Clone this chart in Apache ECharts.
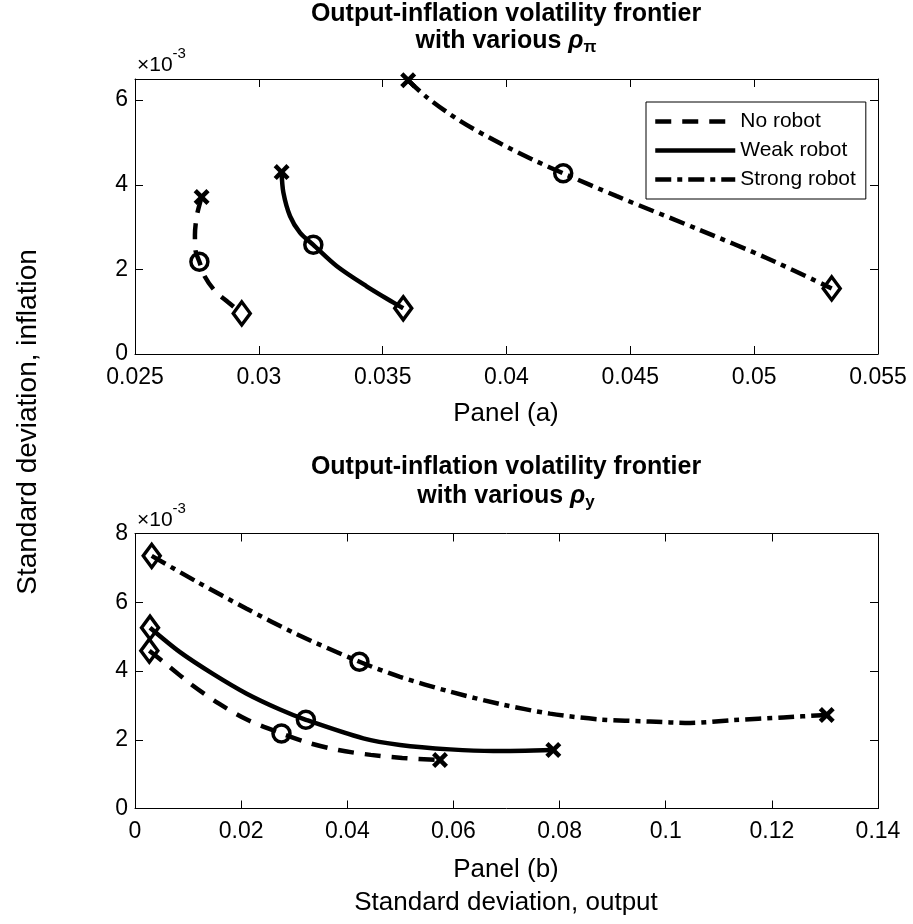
<!DOCTYPE html>
<html>
<head>
<meta charset="utf-8">
<script src="https://cdn.jsdelivr.net/npm/echarts@6/dist/echarts.min.js"></script>
<style>html,body{margin:0;padding:0;background:#fff;}#c{width:913px;height:924px;}</style>
</head>
<body>
<div id="c"></div>
<script>
// ---- Data (x: standard deviation of output; y: standard deviation of inflation in units of 1e-3) ----
// Panel (a): various rho_pi
var noRobotA = [[0.02769,3.71],[0.02750,3.28],[0.02742,2.81],[0.02744,2.46],[0.02760,2.18],[0.02783,1.82],[0.02823,1.49],[0.02875,1.23],[0.02931,0.96]];
var weakA    = [[0.03092,4.30],[0.03099,3.82],[0.03126,3.26],[0.03166,2.87],[0.03220,2.58],[0.03314,2.08],[0.03435,1.60],[0.03542,1.22],[0.03583,1.08]];
var strongA  = [[0.03603,6.47],[0.03678,6.07],[0.03812,5.51],[0.03974,4.98],[0.04108,4.59],[0.04229,4.27],[0.04445,3.73],[0.04781,2.93],[0.05050,2.27],[0.05313,1.55]];
// Panel (b): various rho_y
var noRobotB = [[0.00270,4.59],[0.00628,4.15],[0.01068,3.60],[0.01583,3.05],[0.02116,2.58],[0.02760,2.18],[0.03247,1.92],[0.03831,1.70],[0.04441,1.56],[0.05037,1.47],[0.05747,1.41]];
var weakB    = [[0.00283,5.26],[0.00848,4.55],[0.01476,3.91],[0.02105,3.34],[0.02732,2.88],[0.03220,2.58],[0.04302,2.04],[0.04993,1.85],[0.05936,1.72],[0.06752,1.67],[0.07882,1.70]];
var strongB  = [[0.00315,7.35],[0.01162,6.60],[0.02104,5.81],[0.03047,5.07],[0.04229,4.27],[0.04993,3.83],[0.05936,3.40],[0.06878,3.04],[0.07820,2.76],[0.08762,2.59],[0.09704,2.53],[0.10458,2.49],[0.11274,2.57],[0.12216,2.65],[0.13034,2.72]];
// index of the baseline (circle) point in each curve
var circleIdxA = [4, 4, 5];
var circleIdxB = [5, 5, 4];
var seriesNames = ['No robot', 'Weak robot', 'Strong robot'];
// axis ticks
var xTicksA = {min: 0.025, max: 0.055, interval: 0.005};
var yTicksA = {min: 0, max: 6.5, interval: 2};
var xTicksB = {min: 0, max: 0.14, interval: 0.02};
var yTicksB = {min: 0, max: 8, interval: 2};

var FONT = '"Liberation Sans", Arial, Helvetica, sans-serif';
var lineTypes = [[16, 11], 'solid', [16, 6, 5, 6]];
var CROSS = 'path://M2,0 L5,3 L8,0 L10,2 L7,5 L10,8 L8,10 L5,7 L2,10 L0,8 L3,5 L0,2 Z';
var LW = 4.5;

function fmt(v){ return String(parseFloat(v.toFixed(4))); }

function xAxes(grid, t){
  var base = {type:'value', gridIndex:grid, min:t.min, max:t.max, interval:t.interval,
    axisLine:{show:true, onZero:false, lineStyle:{color:'#000', width:1}},
    axisTick:{show:true, inside:true, length:8, lineStyle:{color:'#000', width:1}},
    splitLine:{show:false}};
  var a = Object.assign({}, base, {position:'bottom',
    axisLabel:{show:true, color:'#000', fontSize:23, fontFamily:FONT, margin:12, formatter:fmt, showMaxLabel:true, showMinLabel:true}});
  var b = Object.assign({}, base, {position:'top', axisLabel:{show:false}});
  return [a, b];
}
function yAxes(grid, t){
  var base = {type:'value', gridIndex:grid, min:t.min, max:t.max, interval:t.interval,
    axisLine:{show:true, onZero:false, lineStyle:{color:'#000', width:1}},
    axisTick:{show:true, inside:true, length:8, lineStyle:{color:'#000', width:1}},
    splitLine:{show:false}};
  var a = Object.assign({}, base, {position:'left',
    axisLabel:{show:true, color:'#000', fontSize:23, fontFamily:FONT, margin:7, showMaxLabel:(t.max % t.interval === 0), formatter:function(v){return String(v);}}});
  var b = Object.assign({}, base, {position:'right', axisLabel:{show:false}});
  return [a, b];
}

var series = [];
function addPanel(curves, circleIdx, xi, yi, crossAtEnd){
  var crosses = [], circles = [], diamonds = [];
  curves.forEach(function(c, i){
    series.push({type:'line', name: seriesNames[i] + ' curve', xAxisIndex:xi, yAxisIndex:yi,
      data:c, symbol:'none', smooth:0.3, z:2,
      lineStyle:{color:'#000', width:LW, type:lineTypes[i], cap:'butt'}});
    var first = c[0], last = c[c.length-1];
    crosses.push(crossAtEnd ? last : first);
    diamonds.push(crossAtEnd ? first : last);
    circles.push(c[circleIdx[i]]);
  });
  series.push({type:'scatter', xAxisIndex:xi, yAxisIndex:yi, data:crosses, symbol:CROSS, symbolSize:16, z:5,
    itemStyle:{color:'#000', opacity:1}});
  series.push({type:'scatter', xAxisIndex:xi, yAxisIndex:yi, data:circles, symbol:'circle', symbolSize:17, z:5,
    itemStyle:{color:'rgba(0,0,0,0)', borderColor:'#000', borderWidth:3.5, opacity:1}});
  series.push({type:'scatter', xAxisIndex:xi, yAxisIndex:yi, data:diamonds, symbol:'diamond', symbolSize:[17,23], z:5,
    itemStyle:{color:'rgba(0,0,0,0)', borderColor:'#000', borderWidth:3.5, opacity:1}});
}
addPanel([noRobotA, weakA, strongA], circleIdxA, 0, 0, false);
addPanel([noRobotB, weakB, strongB], circleIdxB, 2, 2, true);
// legend-only series
seriesNames.forEach(function(n, i){
  series.push({type:'line', name:n, xAxisIndex:0, yAxisIndex:0, data:[], symbol:'none',
    lineStyle:{color:'#000', width:LW, type:lineTypes[i], cap:'butt'}, itemStyle:{color:'rgba(0,0,0,0)', borderWidth:0}});
});

function titleText(y1, y2, sub, subSize){
  return [
    {type:'text', silent:true, x:506, y:y1,
     style:{text:'Output-inflation volatility frontier', textAlign:'center', textVerticalAlign:'middle',
       font:'bold 25px ' + FONT, fill:'#000'}},
    {type:'text', silent:true, x:506, y:y2,
     style:{text:'{m|with various }{r|ρ}{s|' + sub + '}', textAlign:'center', textVerticalAlign:'middle', fill:'#000',
       rich:{m:{font:'bold 25px ' + FONT, lineHeight:30, verticalAlign:'middle'},
             r:{font:'italic bold 25px ' + FONT, lineHeight:30, verticalAlign:'middle'},
             s:{font:'bold ' + subSize + 'px ' + FONT, lineHeight:18, verticalAlign:'bottom'}}}}
  ];
}
function expText(y){
  return {type:'text', silent:true, x:137, y:y,
    style:{text:'{a|×10}{b|-3}', textAlign:'left', textVerticalAlign:'bottom', fill:'#000',
      rich:{a:{font:'21px ' + FONT, lineHeight:24, verticalAlign:'bottom'}, b:{font:'15px ' + FONT, lineHeight:30, verticalAlign:'top'}}}};
}
function plainText(x, y, t, size, rot){
  return {type:'text', silent:true, x:x, y:y, rotation: rot || 0,
    style:{text:t, textAlign:'center', textVerticalAlign:'middle', font: size + 'px ' + FONT, fill:'#000'}};
}

var graphics = [].concat(
  titleText(14, 41, 'π', 17),
  titleText(467, 496, 'y', 17),
  [expText(76), expText(531),
   plainText(506, 414, 'Panel (a)', 26),
   plainText(506, 870, 'Panel (b)', 26),
   plainText(506, 903, 'Standard deviation, output', 26),
   plainText(28, 422, 'Standard deviation, inflation', 28, Math.PI/2)]
);

var option = {
  animation:false,
  backgroundColor:'#fff',
  textStyle:{fontFamily:FONT},
  grid:[{left:135, right:35, top:79, height:275, containLabel:false},
        {left:135, right:35, top:533.5, height:275, containLabel:false}],
  xAxis:[].concat(xAxes(0, xTicksA), xAxes(1, xTicksB)),
  yAxis:[].concat(yAxes(0, yTicksA), yAxes(1, yTicksB)),
  legend:{show:true, orient:'vertical', left:646, top:102, data:seriesNames, selectedMode:false,
    itemWidth:80, itemHeight:14, itemGap:8, padding:[9,10,9,7],
    borderColor:'#000', borderWidth:1, backgroundColor:'#fff',
    itemStyle:{color:'rgba(0,0,0,0)', borderColor:'rgba(0,0,0,0)', borderWidth:0, opacity:0},
    lineStyle:{width:LW, color:'#000'},
    textStyle:{fontSize:21, color:'#000', fontFamily:FONT, lineHeight:20}},
  series:series,
  graphic:graphics
};
var chart = echarts.init(document.getElementById('c'), null, {renderer:'canvas'});
chart.setOption(option);
</script>
</body>
</html>
